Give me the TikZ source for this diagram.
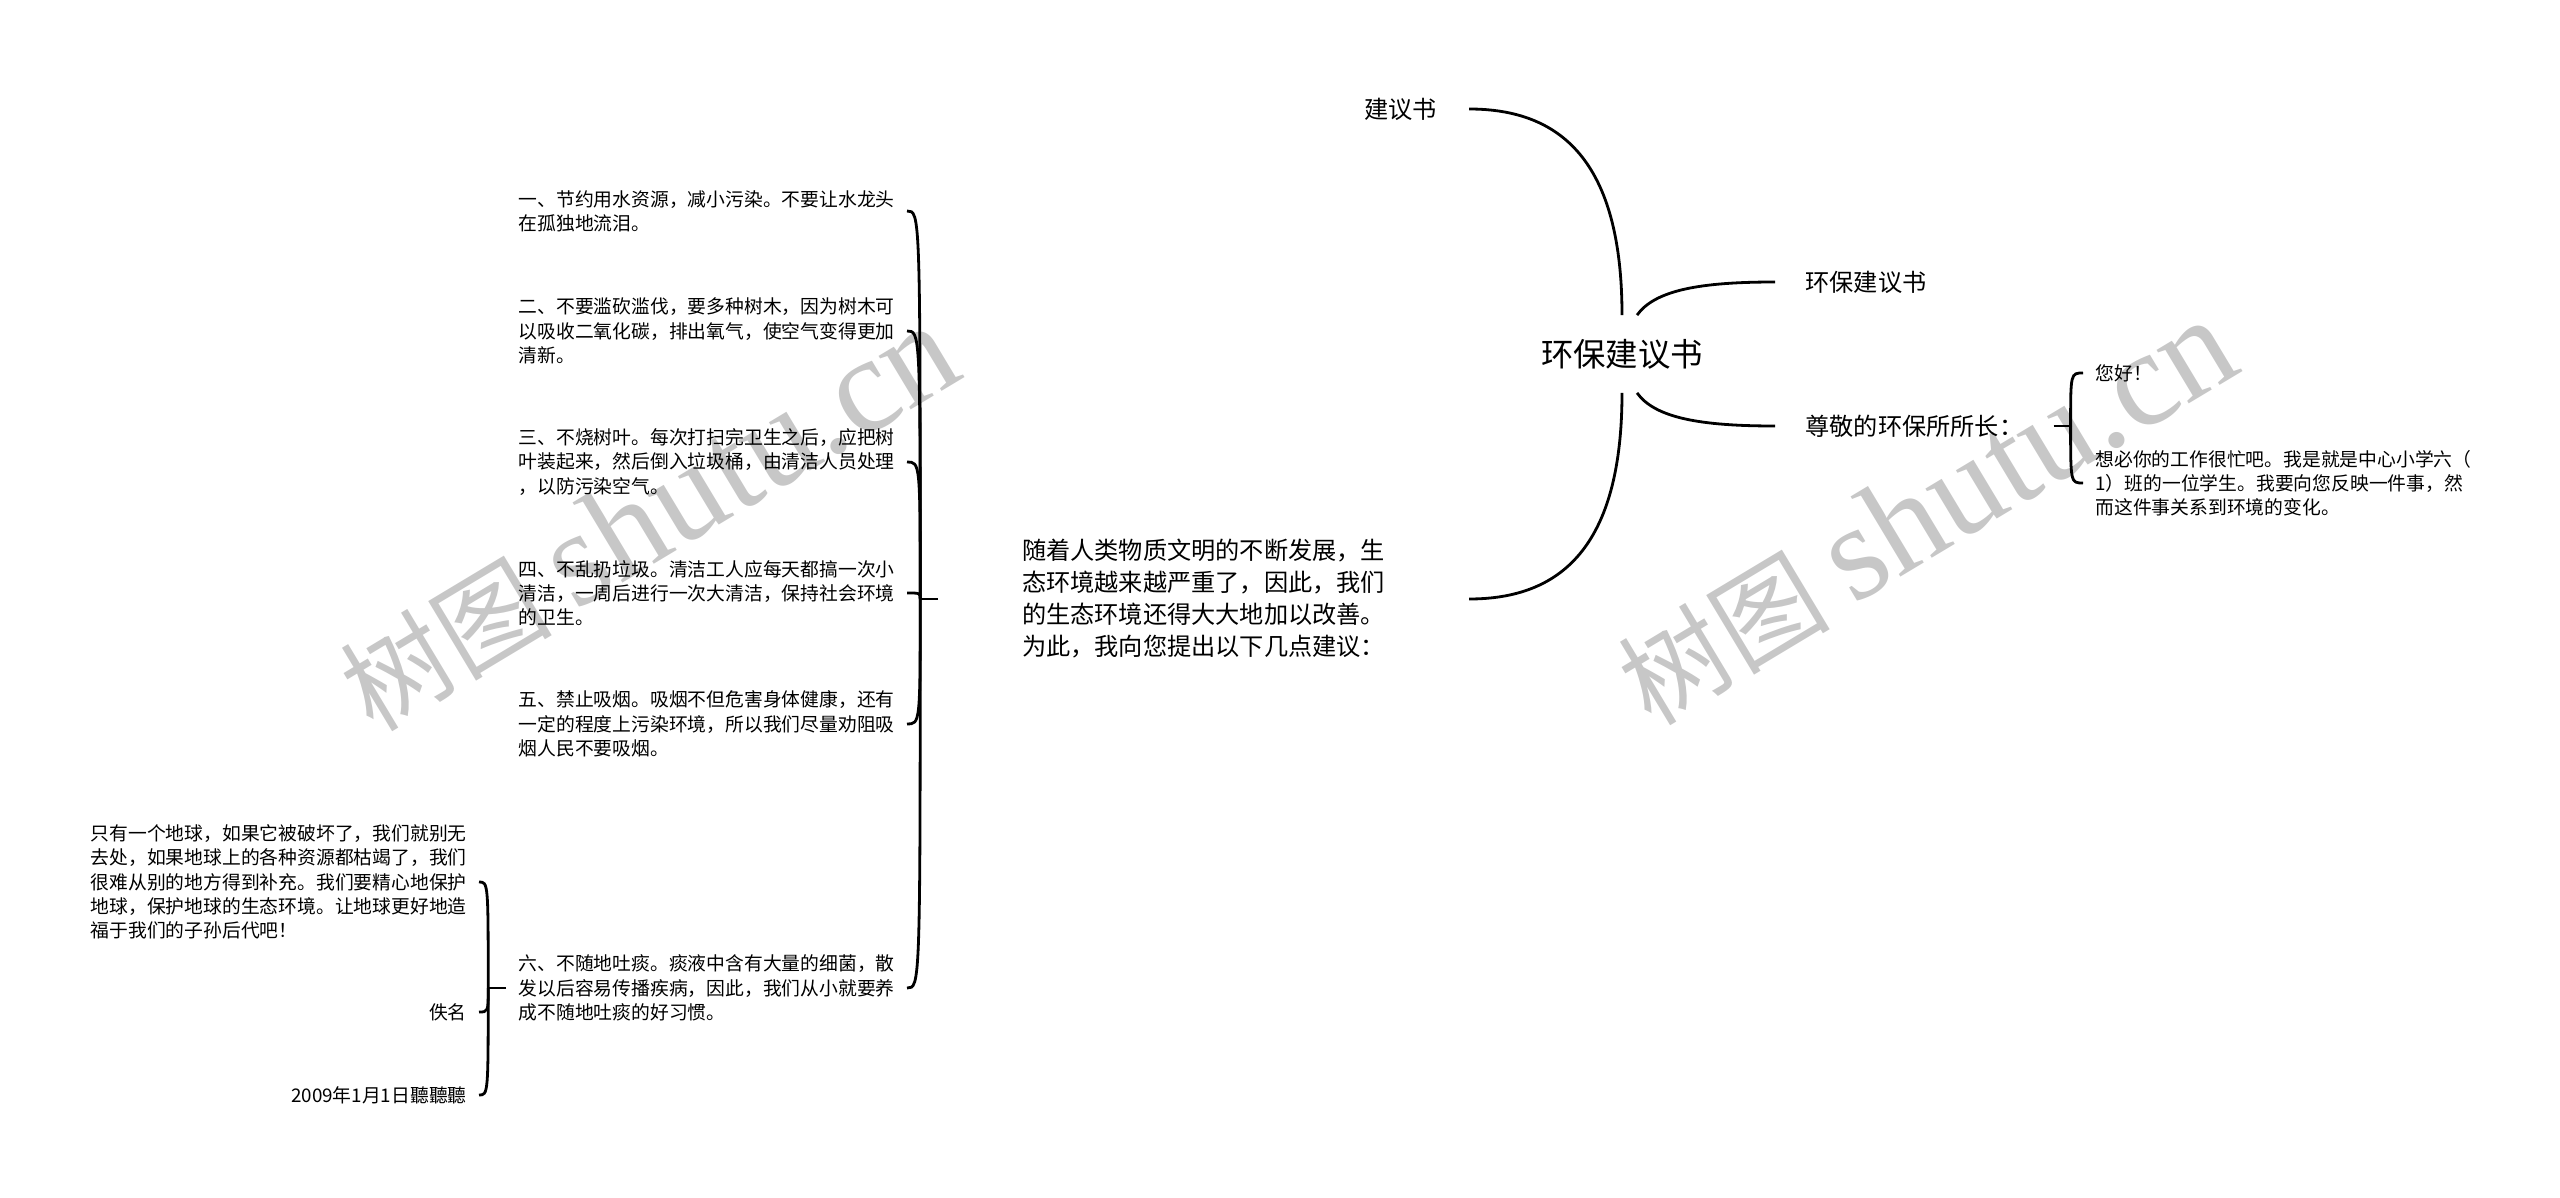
\documentclass[tikz,border=0pt]{standalone}
\usepackage{fontspec}
\usepackage{tikz}
\newfontfamily\cjk{Noto Sans CJK SC}
\newfontfamily\wmserif{Liberation Serif}

\begin{document}
\begin{tikzpicture}[x=0.5pt, y=-0.5pt,
    conn/.style={line width=1.4pt, black},
    roottext/.style={font=\cjk\fontsize{16.2}{20}\selectfont, inner xsep=0pt, minimum height=38.5pt},
    topic/.style={font=\cjk\fontsize{12.1}{16}\selectfont, align=left, inner xsep=15pt, inner ysep=0pt},
    leaf/.style={font=\cjk\fontsize{9.4}{12.1}\selectfont, align=left, inner xsep=6pt, inner ysep=0pt},
    watermark/.style={text=black!22, rotate=31, font=\fontsize{53}{53}\selectfont}]
    \useasboundingbox (0,0) rectangle (2560,1198);

    % Watermarks
    \node[watermark] (wm1) at (648,518) {\cjk 树图 \wmserif\fontsize{68}{68}\selectfont shutu.cn};
    \node[watermark] (wm2) at (1926,512) {\cjk 树图 \wmserif\fontsize{68}{68}\selectfont shutu.cn};

    % Root
    \node[roottext] (root) at (1622,354) {环保建议书};

    % First level
    \node[topic, anchor=east, inner xsep=16pt] (jys) at (1469,109) {建议书};
    \node[topic, anchor=west] (hb) at (1775,282) {环保建议书};
    \node[topic, anchor=west] (zj) at (1775,426) {尊敬的环保所所长：};
    \node[topic, anchor=east, inner xsep=41.75pt] (intro) at (1469,599)
        {随着人类物质文明的不断发展，生\\态环境越来越严重了，因此，我们\\的生态环境还得大大地加以改善。\\为此，我向您提出以下几点建议：};

    % Suggestions
    \node[leaf, anchor=east] (s1) at (907,211) {一、节约用水资源，减小污染。不要让水龙头\\在孤独地流泪。};
    \node[leaf, anchor=east] (s2) at (907,331) {二、不要滥砍滥伐，要多种树木，因为树木可\\以吸收二氧化碳，排出氧气，使空气变得更加\\清新。};
    \node[leaf, anchor=east] (s3) at (907,462) {三、不烧树叶。每次打扫完卫生之后，应把树\\叶装起来，然后倒入垃圾桶，由清洁人员处理\\，以防污染空气。};
    \node[leaf, anchor=east] (s4) at (907,593) {四、不乱扔垃圾。清洁工人应每天都搞一次小\\清洁，一周后进行一次大清洁，保持社会环境\\的卫生。};
    \node[leaf, anchor=east] (s5) at (907,724) {五、禁止吸烟。吸烟不但危害身体健康，还有\\一定的程度上污染环境，所以我们尽量劝阻吸\\烟人民不要吸烟。};
    \node[leaf, anchor=east] (s6) at (907,988) {六、不随地吐痰。痰液中含有大量的细菌，散\\发以后容易传播疾病，因此，我们从小就要养\\成不随地吐痰的好习惯。};

    % Closing
    \node[leaf, anchor=east] (earth) at (479,882) {只有一个地球，如果它被破坏了，我们就别无\\去处，如果地球上的各种资源都枯竭了，我们\\很难从别的地方得到补充。我们要精心地保护\\地球，保护地球的生态环境。让地球更好地造\\福于我们的子孙后代吧！};
    \node[leaf, anchor=east] (sign) at (479,1012) {佚名};
    \node[leaf, anchor=east] (date) at (479,1095) {2009年1月1日聽聽聽};

    % Letter
    \node[leaf, anchor=west] (hello) at (2083,373) {您好！};
    \node[leaf, anchor=west] (letter) at (2083,483) {想必你的工作很忙吧。我是就是中心小学六（\\1）班的一位学生。我要向您反映一件事，然\\而这件事关系到环境的变化。};

    % Forks
    \coordinate (fork) at ([xshift=-9pt]intro.west);
    \coordinate (fork6) at ([xshift=-9pt]s6.west);
    \coordinate (forkzj) at ([xshift=8.5pt]zj.east);

    % Connectors
    \draw[conn] (root.north) .. controls +(0,-155) and +(91,0) .. (jys.east);
    \draw[conn] (root.south) .. controls +(0,155) and +(91,0) .. (intro.east);
    \draw[conn] ([xshift=7.5pt]root.north) .. controls +(18,-25) and +(-75,0) .. (hb.west);
    \draw[conn] ([xshift=7.5pt]root.south) .. controls +(18,25) and +(-75,0) .. (zj.west);

    \draw[conn] (intro.west) -- (fork);
    \foreach \n in {s1,s2,s3,s4,s5,s6}
        \draw[conn] (fork) .. controls (fork |- \n.east) .. (\n.east);

    \draw[conn] (s6.west) -- (fork6);
    \foreach \n in {earth,sign,date}
        \draw[conn] (fork6) .. controls (fork6 |- \n.east) .. (\n.east);

    \draw[conn] (zj.east) -- (forkzj);
    \foreach \n in {hello,letter}
        \draw[conn] (forkzj) .. controls (forkzj |- \n.west) .. (\n.west);
\end{tikzpicture}
\end{document}
